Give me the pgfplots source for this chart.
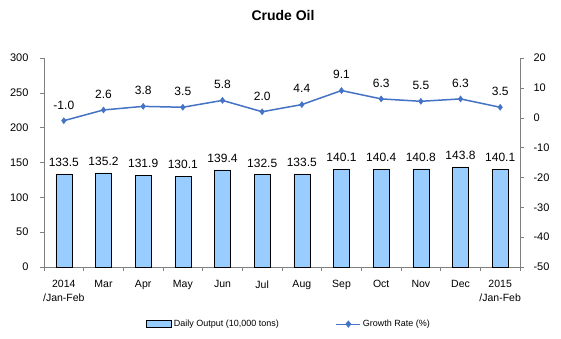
\documentclass[border=0pt]{standalone}
\usepackage{pgfplots}
\pgfplotsset{compat=1.18}
\usepackage{fontspec}
\setmainfont{Liberation Sans}
\definecolor{barblue}{RGB}{153,204,255}
\definecolor{lineblue}{RGB}{68,114,196}
\definecolor{axgray}{RGB}{128,128,128}
\pgfplotstableread{
x out
0 133.5
1 135.2
2 131.9
3 130.1
4 139.4
5 132.5
6 133.5
7 140.1
8 140.4
9 140.8
10 143.8
11 140.1
}\outputtab
\pgfplotstableread{
x g
0 -1.0
1 2.6
2 3.8
3 3.5
4 5.8
5 2.0
6 4.4
7 9.1
8 6.3
9 5.5
10 6.3
11 3.5
}\growthtab
\begin{document}
\begin{tikzpicture}[x=1pt,y=1pt]
\path[use as bounding box] (0,0) rectangle (561,338);
\node[font=\bfseries\fontsize{14}{16}\selectfont] at (283,323) {Crude Oil};
\pgfplotsset{
  common/.style={
    at={(44pt,71pt)}, anchor=south west,
    scale only axis, width=476pt, height=209pt,
    xmin=-0.5, xmax=11.5,
    /pgf/number format/assume math mode=true,
    tick label style={font=\fontsize{11}{13}\selectfont, text=black},
    major tick length=4pt, minor tick length=4pt,
    tick align=outside,
    axis line style={draw=axgray},
    every tick/.style={draw=axgray},
  }
}
\begin{axis}[common,
  ymin=0, ymax=300, ytick={0,50,...,300},
  axis y line*=left, axis x line*=bottom,
  xtick={0,...,11},
  xticklabels={{2014\\/Jan-Feb},Mar,Apr,May,Jun,Jul,Aug,Sep,Oct,Nov,Dec,{2015\\/Jan-Feb}},
  xticklabel style={align=center, font=\fontsize{10.5}{14}\selectfont, yshift=-6pt},
  major x tick style={draw=none},
  minor xtick={-0.5,0.5,...,11.5},
  yticklabel style={xshift=-8pt},
]
\addplot[ybar, bar width=16pt, fill=barblue, draw=black,
  nodes near coords={\pgfmathprintnumber[fixed,fixed zerofill,precision=1]{\pgfplotspointmeta}},
  nodes near coords style={font=\fontsize{12}{14}\selectfont, anchor=south, yshift=4pt},
  point meta=explicit] table[x=x, y=out, meta=out] {\outputtab};
\end{axis}
\begin{axis}[common,
  ymin=-50, ymax=20, ytick={-50,-40,...,20},
  axis y line*=right, axis x line=none,
  yticklabel style={xshift=6pt},
  legend columns=2,
  legend style={draw=none, fill=none, at={(0.515,-0.273)}, anchor=center,
    font=\fontsize{9}{11}\selectfont,
    /tikz/every even column/.append style={column sep=55pt}},
]
\addlegendimage{legend image code/.code={\draw[fill=barblue,draw=black] (0pt,-3.5pt) rectangle (25pt,3.5pt);}}
\addlegendentry{Daily Output (10,000 tons)}
\addplot[lineblue, line width=1.5pt, mark=diamond*, mark size=3pt,
  mark options={fill=lineblue, line width=0.5pt},
  nodes near coords={\pgfmathprintnumber[fixed,fixed zerofill,precision=1]{\pgfplotspointmeta}},
  nodes near coords style={font=\fontsize{12}{14}\selectfont, text=black, anchor=south, yshift=8pt},
  point meta=explicit,
  legend image code/.code={\draw[lineblue,line width=1pt] (0pt,0pt) -- (24pt,0pt);
     \fill[lineblue] (12pt,2.5pt) -- (14pt,0pt) -- (12pt,-2.5pt) -- (10pt,0pt) -- cycle;}
  ] table[x=x, y=g, meta=g] {\growthtab};
\addlegendentry{Growth Rate (\%)}
\end{axis}
\end{tikzpicture}
\end{document}
